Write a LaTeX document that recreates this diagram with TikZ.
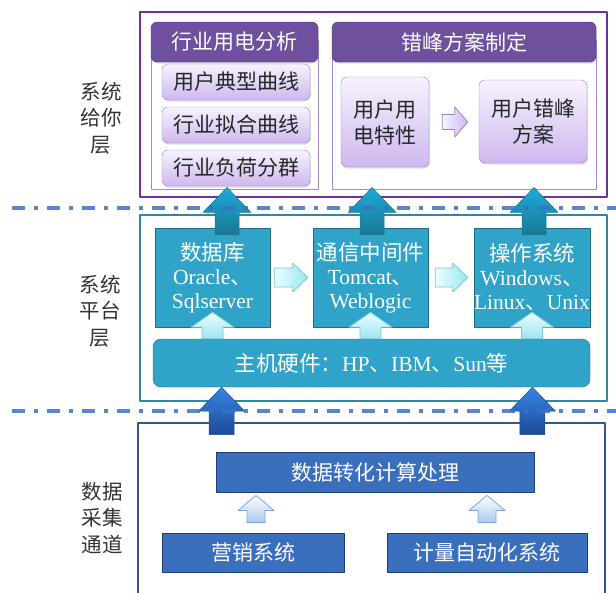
\documentclass[tikz,border=0pt]{standalone}
\usepackage{fontspec}
\setmainfont{Liberation Serif}
\newfontfamily\cjk{Noto Sans CJK SC}
\usepackage{tikz}
\usetikzlibrary{calc,shadows}

\definecolor{purpleline}{HTML}{7030A0}
\definecolor{headfill}{HTML}{6E509E}
\definecolor{headline}{HTML}{4A3470}
\definecolor{analine}{HTML}{A48CCB}
\definecolor{lilactop}{HTML}{F7F2FE}
\definecolor{lilacbot}{HTML}{CDB8EE}
\definecolor{lilacline}{HTML}{9C86C4}
\definecolor{tealline}{HTML}{2E88A2}
\definecolor{tealfill}{HTML}{30A3C8}
\definecolor{tealdark}{HTML}{1E6C86}
\definecolor{cyantop}{HTML}{EAFFFF}
\definecolor{cyanbot}{HTML}{9CE4EE}
\definecolor{cyanline}{HTML}{78C8D6}
\definecolor{bigtealtop}{HTML}{1CAAD8}
\definecolor{bigtealbot}{HTML}{1A7895}
\definecolor{blueline}{HTML}{2F5597}
\definecolor{bluefill}{HTML}{3A6FBE}
\definecolor{bluedark}{HTML}{1F3D72}
\definecolor{skytop}{HTML}{FFFFFF}
\definecolor{skybot}{HTML}{ABC9EE}
\definecolor{skyline}{HTML}{7EA6DB}
\definecolor{bigbluetop}{HTML}{3586E2}
\definecolor{bigbluebot}{HTML}{1D4B98}
\definecolor{sepline}{HTML}{3C70C4}

\tikzset{
  arshaft/.store in=\arshaft, arhead/.store in=\arhead, arlen/.store in=\arlen,
  fat up/.style={to path={let \p1=(\tikztostart),\p2=(\tikztotarget) in
    (\x1-\arshaft,\y1) -- (\x1-\arshaft,\y2-\arlen) -- (\x1-\arhead,\y2-\arlen)
    -- (\x1,\y2) -- (\x1+\arhead,\y2-\arlen) -- (\x1+\arshaft,\y2-\arlen)
    -- (\x1+\arshaft,\y1) -- cycle}},
  fat right/.style={to path={let \p1=(\tikztostart),\p2=(\tikztotarget) in
    (\x1,\y1+\arshaft) -- (\x2-\arlen,\y1+\arshaft) -- (\x2-\arlen,\y1+\arhead)
    -- (\x2,\y1) -- (\x2-\arlen,\y1-\arhead) -- (\x2-\arlen,\y1-\arshaft)
    -- (\x1,\y1-\arshaft) -- cycle}},
  boxtext/.style={font=\fontsize{21}{26}\selectfont, align=center, inner sep=0pt},
  lilacshadow/.style={drop shadow={shadow xshift=1pt, shadow yshift=-1.5pt, opacity=0.25}},
  purplehead/.style={boxtext, font=\cjk\fontsize{21}{26}\selectfont, text=white,
    draw=headline, fill=headfill, rounded corners=6pt, minimum height=40pt, lilacshadow},
  anaframe/.style={draw=analine, fill=white, line width=0.8pt},
  lilacbox/.style={boxtext, font=\cjk\fontsize{21}{26}\selectfont, text=black!85,
    draw=lilacline, top color=lilactop, bottom color=lilacbot, rounded corners=6pt, lilacshadow},
  tealbox/.style={boxtext, text=white, draw=tealdark, fill=tealfill,
    minimum width=115pt, minimum height=99pt, font=\fontsize{21.5}{24}\selectfont},
  tealbar/.style={boxtext, text=white, draw=tealdark, fill=tealfill, rounded corners=8pt},
  bluebox/.style={boxtext, font=\cjk\fontsize{21}{26}\selectfont, text=white,
    draw=bluedark, fill=bluefill, line width=0.8pt},
  layerlabel/.style={boxtext, font=\cjk\fontsize{20.5}{26.5}\selectfont, text=black!80},
  layersep/.style={sepline, line width=3.5pt, dash pattern=on 13pt off 9pt on 4pt off 9pt, opacity=0.85},
  lilacarrow/.style={draw=lilacline, left color=lilactop, right color=lilacbot, line width=0.8pt},
  cyanarrow/.style={draw=cyanline, line width=0.8pt},
  bigteal/.style={top color=bigtealtop, bottom color=bigtealbot, draw=bigtealbot, line width=0.5pt},
  skyarrow/.style={draw=skyline, top color=skytop, bottom color=skybot, line width=0.8pt},
  bigblue/.style={top color=bigbluetop, bottom color=bigbluebot, draw=bigbluebot, line width=0.5pt},
}

\begin{document}
\begin{tikzpicture}[x=1pt,y=-1pt,line join=round]
\clip (0,0) rectangle (616,592);

% layer labels
\node[layerlabel] (gfl) at (101,118) {系统\\给你\\层};
\node[layerlabel] (ptl) at (100,311) {系统\\平台\\层};
\node[layerlabel] (cjl) at (102,518) {数据\\采集\\通道};

% system layer
\draw[purpleline, line width=2pt] (140,12) rectangle (607,197);
\node[anaframe, minimum width=167pt, minimum height=149pt] (anaL) at (234.5,114.5) {};
\node[anaframe, minimum width=264pt, minimum height=149pt] (anaR) at (464,114.5) {};
\node[purplehead, minimum width=167pt] (headL) at (234.5,42) {行业用电分析};
\node[purplehead, minimum width=264pt] (headR) at (464,42) {错峰方案制定};
\node[lilacbox, minimum width=148pt, minimum height=36pt] (typcurve) at (236,82) {用户典型曲线};
\node[lilacbox, minimum width=148pt, minimum height=36pt] (fitcurve) at (236,125) {行业拟合曲线};
\node[lilacbox, minimum width=148pt, minimum height=36pt] (loadgroup) at (236,168) {行业负荷分群};
\node[lilacbox, minimum width=88pt, minimum height=90pt] (feat) at (385,122) {用户用\\电特性};
\node[lilacbox, minimum width=108pt, minimum height=83pt] (plan) at (533,121.5) {用户错峰\\方案};
\path[lilacarrow, fat right, arshaft=7.5pt, arhead=15pt, arlen=13pt]
  ($(feat.east)+(13pt,0)$) to ($(plan.west)+(-11pt,0)$);

% platform layer
\draw[tealline, line width=2pt] (140,215) rectangle (607,401);
\node[tealbox] (db) at (212.5,277.5) {{\cjk 数据库}\\Oracle{\cjk 、}\\Sqlserver};
\node[tealbox] (mw) at (370.5,277.5) {{\cjk 通信中间件}\\Tomcat{\cjk 、}\\Weblogic};
\node[tealbox, minimum width=116pt] (os) at (532,277.5) {{\cjk 操作系统}\\Windows{\cjk 、}\\Linux{\cjk 、}Unix};
\node[tealbar, minimum width=437pt, minimum height=48pt, font=\fontsize{21.5}{24}\selectfont] (hw) at (371.5,363)
  {{\cjk 主机硬件：}HP{\cjk 、}IBM{\cjk 、}Sun{\cjk 等}};
\path[cyanarrow, left color=cyantop, right color=cyanbot, fat right, arshaft=9.5pt, arhead=14.5pt, arlen=15pt]
  ($(db.east)+(4pt,0)$) to ($(mw.west)+(-5pt,0)$);
\path[cyanarrow, left color=cyantop, right color=cyanbot, fat right, arshaft=9.5pt, arhead=14.5pt, arlen=15pt]
  ($(mw.east)+(7pt,0)$) to ($(os.west)+(-6pt,0)$);
\foreach \b in {db,mw,os}
  \path[cyanarrow, top color=cyantop, bottom color=cyanbot, fat up, arshaft=10.5pt, arhead=21.5pt, arlen=15pt]
    (hw.north -| \b.south) to ($(\b.south)+(0,15pt)$);
\foreach \b/\dx in {db/14.5pt,mw/1.5pt,os/2pt}
  \path[bigteal, fat up, arshaft=12pt, arhead=24pt, arlen=25pt]
    ($(\b.north)+(\dx,-7pt)$) to ($(\b.north |- anaL.south)+(\dx,2pt)$);

% data layer
\draw[blueline, line width=2pt] (138,423) rectangle (605,600);
\node[bluebox, minimum width=318pt, minimum height=40pt] (proc) at (375,472) {数据转化计算处理};
\node[bluebox, minimum width=182pt, minimum height=39pt] (sales) at (253,552.5) {营销系统};
\node[bluebox, minimum width=200pt, minimum height=39pt] (meter) at (487,552.5) {计量自动化系统};
\path[skyarrow, fat up, arshaft=9pt, arhead=18pt, arlen=15pt]
  ($(sales.north)+(3pt,10pt)$) to ($(sales.north |- proc.south)+(3pt,-3pt)$);
\path[skyarrow, fat up, arshaft=9pt, arhead=18pt, arlen=15pt]
  ($(meter.north)+(0,10pt)$) to ($(meter.north |- proc.south)+(0,-3pt)$);
\path[bigblue, fat up, arshaft=12.5pt, arhead=23pt, arlen=24pt]
  ($(proc.north west)+(6pt,17pt)$) to ($(proc.north west |- hw.south)+(6pt,0)$);
\path[bigblue, fat up, arshaft=12.5pt, arhead=23pt, arlen=24pt]
  ($(proc.north east)+(-2pt,17pt)$) to ($(proc.north east |- hw.south)+(-2pt,0)$);

% separators
\draw[layersep] (12,208) -- (616,208);
\draw[layersep] (12,411) -- (616,411);

\end{tikzpicture}
\end{document}
